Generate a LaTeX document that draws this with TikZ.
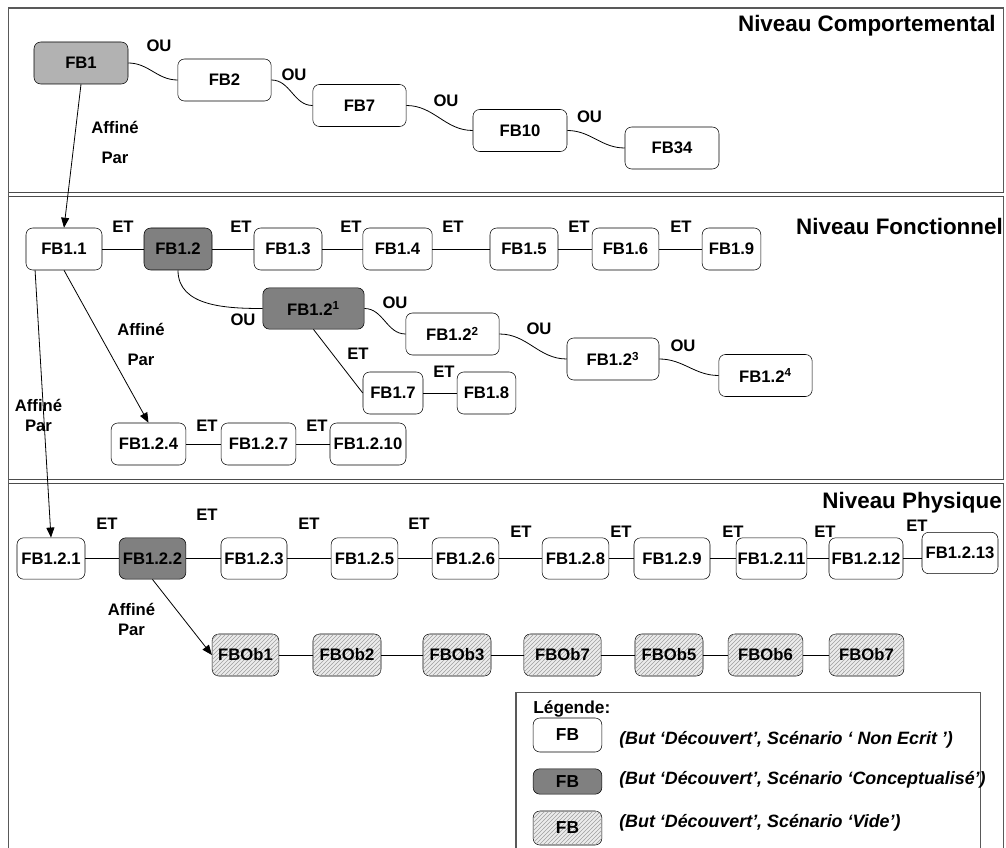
\documentclass[tikz,border=0pt]{standalone}
\usepackage{fontspec}
\setmainfont{Liberation Sans}
\usetikzlibrary{arrows.meta,patterns}
\tikzset{fb/.style={draw,rounded corners=5pt,minimum height=31.5pt,inner sep=1pt,
fill=white,font=\bfseries\fontsize{12.5}{14}\selectfont},
fbg/.style={fb,fill=gray!60},
fbc/.style={fb,fill=gray},
fbv/.style={fb,fill=gray!15,postaction={pattern=north east lines,pattern color=gray!75}},
lbl/.style={font=\bfseries\fontsize{12.5}{14}\selectfont},
affpar/.style={align=center,font=\bfseries\fontsize{12.5}{22.5}\selectfont},
affpar2/.style={align=center,font=\bfseries\fontsize{12.5}{15}\selectfont},
titre/.style={anchor=base east,inner sep=0pt,font=\bfseries\fontsize{16.8}{19}\selectfont},
legtxt/.style={anchor=west,inner sep=0pt,font=\bfseries\itshape\fontsize{13.4}{16}\selectfont}}
\tikzstyle{cadre} = [draw=black!65,line width=1pt]
\tikzstyle{sep}   = [draw=black!70,line width=0.9pt,double=white,double distance=2pt]
\tikzstyle{lien}  = [line width=0.6pt]
\tikzstyle{affine} = [line width=0.6pt,-{Triangle[length=7.5pt,width=6pt]}]

\begin{document}
\begin{tikzpicture}[x=0.75pt,y=-0.75pt]
\useasboundingbox (0,0) rectangle (1006,848);
% cadre et niveaux
\draw[cadre] (8.5,848) -- (8.5,8) -- (1003.5,8) -- (1003.5,848);
\draw[sep] (8.5,194.5) -- (1003.5,194.5);
\draw[sep] (8.5,481.5) -- (1003.5,481.5);
\node[titre] at (996,32) {Niveau Comportemental};
\node[titre] at (1003,235) {Niveau Fonctionnel};
\node[titre] at (1002,508) {Niveau Physique};

% niveau comportemental
\node[fbg,minimum width=70.5pt] (fb1) at (81,63) {FB1};
\node[fb,minimum width=70pt] (fb2) at (224.5,80) {FB2};
\node[fb,minimum width=70pt] (fb7) at (359.5,105.5) {FB7};
\node[fb,minimum width=70.5pt] (fb10) at (520,130.5) {FB10};
\node[fb,minimum width=70.5pt] (fb34) at (672,148) {FB34};
\draw[lien] (fb1.east) to[out=0,in=180] (fb2.west);
\draw[lien] (fb2.east) to[out=0,in=180] (fb7.west);
\draw[lien] (fb7.east) to[out=0,in=180] (fb10.west);
\draw[lien] (fb10.east) to[out=0,in=180] (fb34.west);
\node[lbl] at (159,46) {OU};
\node[lbl] at (294,75) {OU};
\node[lbl] at (446,101) {OU};
\node[lbl] at (589.5,117) {OU};

% niveau fonctionnel
\node[fb,minimum width=57pt] (fb11) at (64,249) {FB1.1};
\node[fbc,minimum width=51pt] (fb12) at (178,249) {FB1.2};
\node[fb,minimum width=51pt] (fb13) at (288,249) {FB1.3};
\node[fb,minimum width=52pt] (fb14) at (397.5,249) {FB1.4};
\node[fb,minimum width=51pt] (fb15) at (524,249) {FB1.5};
\node[fb,minimum width=50pt] (fb16) at (625.5,249) {FB1.6};
\node[fb,minimum width=44pt] (fb19) at (731.5,249) {FB1.9};
\draw[lien] (fb11) -- (fb12) -- (fb13) -- (fb14) -- (fb15) -- (fb16) -- (fb19);
\node[lbl] at (123,227) {ET};
\node[lbl] at (241,227) {ET};
\node[lbl] at (351,227) {ET};
\node[lbl] at (453,227) {ET};
\node[lbl] at (579,227) {ET};
\node[lbl] at (681,227) {ET};

\node[fbc,minimum width=76pt,minimum height=31pt] (fb12a) at (313.5,308.5) {FB1.2\textsuperscript{1}};
\node[fb,minimum width=70pt] (fb12b) at (452.5,334) {FB1.2\textsuperscript{2}};
\node[fb,minimum width=69pt] (fb12c) at (613,359) {FB1.2\textsuperscript{3}};
\node[fb,minimum width=70pt] (fb12d) at (765.5,375.5) {FB1.2\textsuperscript{4}};
\draw[lien] (fb12.south) to[out=-90,in=180] (fb12a.west);
\draw[lien] (fb12a.east) to[out=0,in=180] (fb12b.west);
\draw[lien] (fb12b.east) to[out=0,in=180] (fb12c.west);
\draw[lien] (fb12c.east) to[out=0,in=180] (fb12d.west);
\node[lbl] at (243,320) {OU};
\node[lbl] at (395,303) {OU};
\node[lbl] at (539,329) {OU};
\node[lbl] at (683,346) {OU};

\node[fb,minimum width=45pt] (fb17) at (393,393) {FB1.7};
\node[fb,minimum width=44pt] (fb18) at (486.5,393) {FB1.8};
\draw[lien] (fb12a.south) -- (fb17.west);
\draw[lien] (fb17) -- (fb18);
\node[lbl] at (358,354) {ET};
\node[lbl] at (444,372) {ET};

\node[fb,minimum width=56pt] (fb124) at (148.5,444) {FB1.2.4};
\node[fb,minimum width=56pt] (fb127) at (258.5,444) {FB1.2.7};
\node[fb,minimum width=57pt] (fb1210) at (368,444) {FB1.2.10};
\draw[lien] (fb124) -- (fb127) -- (fb1210);
\node[lbl] at (207,426) {ET};
\node[lbl] at (317,426) {ET};

% niveau physique
\node[fb,minimum width=51pt,minimum height=31pt] (p121) at (51,558.5) {FB1.2.1};
\node[fbc,minimum width=50pt,minimum height=31pt] (p122) at (152.5,558.5) {FB1.2.2};
\node[fb,minimum width=49.5pt,minimum height=31pt] (p123) at (254,558.5) {FB1.2.3};
\node[fb,minimum width=50pt,minimum height=31pt] (p125) at (364.5,558.5) {FB1.2.5};
\node[fb,minimum width=50pt,minimum height=31pt] (p126) at (465.5,558.5) {FB1.2.6};
\node[fb,minimum width=50pt,minimum height=31pt] (p128) at (575.5,558.5) {FB1.2.8};
\node[fb,minimum width=57pt,minimum height=31pt] (p129) at (672,558.5) {FB1.2.9};
\node[fb,minimum width=53pt,minimum height=31pt] (p1211) at (771.5,558.5) {FB1.2.11};
\node[fb,minimum width=55.5pt,minimum height=31pt] (p1212) at (866,558.5) {FB1.2.12};
\node[fb,minimum width=57pt,minimum height=31pt] (p1213) at (960,553) {FB1.2.13};
\draw[lien] (p121) -- (p122) -- (p123) -- (p125) -- (p126) -- (p128) -- (p129) -- (p1211) -- (p1212);
\draw[lien] (p1212.east) -- (p1212.east -| p1213.west);
\node[lbl] at (107,523.5) {ET};
\node[lbl] at (207,515) {ET};
\node[lbl] at (309,523.5) {ET};
\node[lbl] at (419,523.5) {ET};
\node[lbl] at (521,532) {ET};
\node[lbl] at (621,532) {ET};
\node[lbl] at (733,532) {ET};
\node[lbl] at (825,532) {ET};
\node[lbl] at (917,526) {ET};

\node[fbv,minimum width=50pt] (o1) at (245.5,655) {FBOb1};
\node[fbv,minimum width=51pt] (o2) at (347,655) {FBOb2};
\node[fbv,minimum width=51pt] (o3) at (457,655) {FBOb3};
\node[fbv,minimum width=58pt] (o4) at (562.5,655) {FBOb7};
\node[fbv,minimum width=51pt] (o5) at (669,655) {FBOb5};
\node[fbv,minimum width=56pt] (o6) at (765.5,655) {FBOb6};
\node[fbv,minimum width=56pt] (o7) at (866.5,655) {FBOb7};
\draw[lien] (o1) -- (o2) -- (o3) -- (o4) -- (o5) -- (o6) -- (o7);

% raffinements
\draw[affine] (fb1.south) -- (fb11.north);
\node[affpar] at (115,142) {Affiné\\Par};
\draw[affine] (fb11.south) -- (fb124.north);
\node[affpar] at (141,344) {Affiné\\Par};
\draw[affine] ([xshift=7pt]fb11.south west) -- (p121.north);
\node[affpar2] at (38.5,415) {Affiné\\Par};
\draw[affine] (p122.south) -- (o1.west);
\node[affpar2] at (131.5,619) {Affiné\\Par};

% legende
\draw[draw=black!65,line width=0.8pt] (516,848) -- (516,692.5) -- (980.5,692.5) -- (980.5,848);
\node[anchor=base west,inner sep=0pt,font=\bfseries\fontsize{13}{15}\selectfont] at (533,713) {Légende:};
\node[fb,minimum width=51.5pt,minimum height=25.5pt,font=\bfseries\fontsize{13}{15}\selectfont] (l1) at (567.5,735) {FB};
\node[fbc,minimum width=51.5pt,minimum height=19pt,font=\bfseries\fontsize{13}{15}\selectfont] (l2) at (567.5,781.5) {FB};
\node[fbv,minimum width=51.5pt,minimum height=25.5pt,font=\bfseries\fontsize{13}{15}\selectfont] (l3) at (567.5,828) {FB};
\node[legtxt] at (619,740) {(But ‘Découvert’, Scénario ‘ Non Ecrit ’)};
\node[legtxt] at (619,779.5) {(But ‘Découvert’, Scénario ‘Conceptualisé’)};
\node[legtxt] at (619,822.5) {(But ‘Découvert’, Scénario ‘Vide’)};
\end{tikzpicture}
\end{document}
